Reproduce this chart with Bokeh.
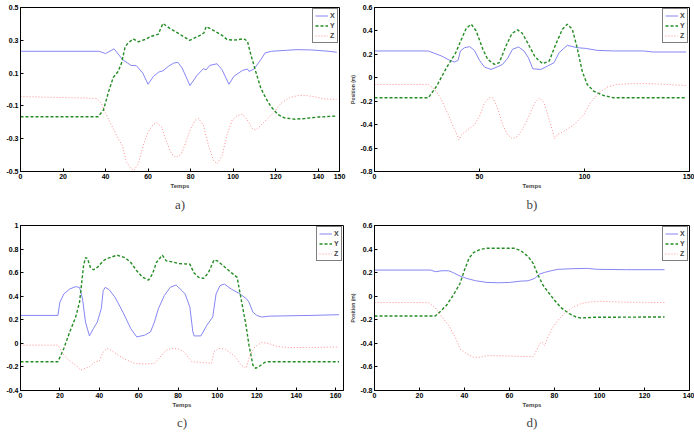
from bokeh.plotting import figure
from bokeh.layouts import column, row
from bokeh.models import Range1d, FixedTicker
from bokeh.embed import file_html
from bokeh.resources import INLINE

# ---------------- data ----------------
# panel a
a_t_x = [0, 37, 40, 44, 48, 52, 54.5, 57.5, 60, 62.5, 65, 67, 69.5, 72, 74, 76, 79.7, 83, 86, 87.3,
         89, 92.4, 94.8, 98, 100.3, 104.3, 106.7, 107.5, 109.8, 113, 115, 118, 125, 130, 137, 145, 148.7]
a_x = [0.233, 0.233, 0.219, 0.248, 0.182, 0.147, 0.145, 0.10, 0.032, 0.08, 0.106, 0.114, 0.141, 0.161, 0.166,
       0.131, 0.024, 0.086, 0.127, 0.12, 0.147, 0.157, 0.12, 0.032, 0.08, 0.116, 0.125, 0.11, 0.125, 0.182,
       0.223, 0.233, 0.239, 0.243, 0.241, 0.233, 0.227]
a_t_y = [0, 36.5, 39, 41.2, 43.6, 45.9, 47.5, 49.1, 50.2, 53, 55.4, 58.5, 61.6, 64.7, 67, 70.2, 74.5, 79.5,
         84.4, 86.3, 87.3, 90, 94.8, 97.1, 100.3, 105, 106.7, 108.3, 110.6, 113, 115.4, 117.8, 121, 124.1,
         128.9, 133.7, 140, 148.7]
a_y = [-0.166, -0.166, -0.125, -0.023, 0.073, 0.11, 0.161, 0.254, 0.278, 0.309, 0.291, 0.305, 0.325, 0.336,
       0.403, 0.373, 0.34, 0.30, 0.33, 0.346, 0.383, 0.366, 0.33, 0.305, 0.301, 0.309, 0.295, 0.213, 0.11,
       0.008, -0.054, -0.105, -0.152, -0.173, -0.181, -0.177, -0.168, -0.162]
a_t_z = [0, 35.7, 38, 40.4, 43.6, 45.9, 47.9, 49.8, 52.2, 53.3, 55.4, 57.7, 60, 62.4, 64, 66.3, 68.7, 71,
         73.2, 75.7, 77.5, 79.7, 82.1, 83.7, 86, 88.4, 90.8, 92.4, 94.8, 97.1, 99.5, 101.9, 104.3, 106.7, 109,
         110.6, 113, 116.2, 119.4, 122.5, 126.5, 130.5, 134.4, 138.4, 143.2, 148.7]
a_z = [-0.043, -0.054, -0.084, -0.156, -0.238, -0.30, -0.341, -0.443, -0.484, -0.494, -0.453, -0.341, -0.259,
       -0.214, -0.201, -0.228, -0.32, -0.392, -0.414, -0.392, -0.33, -0.248, -0.187, -0.177, -0.218, -0.341,
       -0.433, -0.453, -0.402, -0.279, -0.187, -0.16, -0.15, -0.187, -0.238, -0.248, -0.218, -0.177, -0.136,
       -0.084, -0.05, -0.037, -0.037, -0.045, -0.058, -0.06]

# panel b
b_t_x = [0, 25.6, 31.9, 35.8, 38.2, 39.8, 40.9, 42.9, 45.3, 47.6, 50, 52.4, 55.5, 58.6, 61, 63.4, 65.7, 68.6,
         71.2, 73.3, 75.4, 79.2, 82.4, 85.5, 87.9, 91.8, 96.5, 100.5, 106, 113.8, 128, 132.7, 148.4]
b_x = [0.229, 0.229, 0.186, 0.149, 0.134, 0.149, 0.229, 0.257, 0.266, 0.234, 0.149, 0.091, 0.071, 0.094,
       0.114, 0.166, 0.243, 0.263, 0.229, 0.171, 0.077, 0.071, 0.10, 0.129, 0.214, 0.277, 0.257, 0.251, 0.234,
       0.229, 0.229, 0.22, 0.22]
b_t_y = [0, 25.6, 29.6, 34.3, 38.7, 41.4, 43.7, 46.1, 48.4, 51.6, 53.9, 57.1, 59.4, 62.6, 65.4, 68.1, 70.4,
         73.3, 76.4, 80, 83.2, 86.3, 89.5, 91.8, 94.2, 96.5, 98.9, 101.3, 104.4, 109.1, 113.8, 148.4]
b_y = [-0.171, -0.171, -0.071, 0.086, 0.214, 0.329, 0.423, 0.457, 0.40, 0.243, 0.157, 0.114, 0.129, 0.271,
       0.377, 0.409, 0.38, 0.285, 0.18, 0.12, 0.143, 0.286, 0.414, 0.457, 0.414, 0.257, 0.057, -0.057, -0.114,
       -0.151, -0.171, -0.171]
b_t_z = [0, 25.6, 28.8, 31.9, 35.1, 38.2, 40.3, 41.4, 44.5, 47.6, 50, 52.4, 54.7, 56.3, 58.6, 61, 63.4, 65.7,
         68.1, 70.4, 73.3, 76.4, 78.5, 80.8, 83.2, 85.8, 87.1, 90.3, 95, 99.7, 102.8, 106.8, 110.7, 115.4,
         123.3, 132.7, 148.4]
b_z = [-0.057, -0.057, -0.10, -0.186, -0.314, -0.443, -0.529, -0.486, -0.443, -0.40, -0.329, -0.214, -0.171,
       -0.171, -0.257, -0.40, -0.486, -0.52, -0.50, -0.443, -0.336, -0.214, -0.171, -0.214, -0.357, -0.52,
       -0.486, -0.457, -0.40, -0.314, -0.214, -0.129, -0.08, -0.057, -0.049, -0.051, -0.066]

# panel c
c_t_x = [0, 19, 20, 22, 25, 28, 30, 31.5, 33, 35, 37, 39, 41, 42, 43, 45, 48, 52, 56, 59, 63, 66, 68, 70, 73,
         76, 79, 82, 83.6, 86, 87.5, 88.2, 91.6, 94.6, 97.6, 99.3, 101.3, 103.5, 107, 111.5, 114.8, 116, 118,
         120, 122.4, 126.6, 147, 161.7]
c_x = [0.237, 0.237, 0.349, 0.419, 0.461, 0.481, 0.475, 0.377, 0.181, 0.063, 0.125, 0.181, 0.293, 0.447,
       0.475, 0.456, 0.391, 0.265, 0.125, 0.055, 0.069, 0.097, 0.181, 0.293, 0.405, 0.475, 0.495, 0.447, 0.419,
       0.307, 0.097, 0.063, 0.063, 0.153, 0.223, 0.419, 0.49, 0.503, 0.461, 0.419, 0.377, 0.349, 0.265, 0.237,
       0.223, 0.231, 0.237, 0.243]
c_t_y = [0, 19, 22, 25, 28, 30, 32, 33, 34, 35.5, 37, 39, 42, 44, 49, 53, 56, 59, 62, 65, 67, 69, 72, 74, 77,
         80.3, 86, 88, 90.4, 93, 95.4, 98.3, 100, 103, 107, 110, 112, 114.5, 116, 118, 119.4, 121, 124, 126,
         161.7]
c_y = [-0.156, -0.156, -0.043, 0.097, 0.223, 0.35, 0.658, 0.728, 0.72, 0.644, 0.624, 0.644, 0.70, 0.72,
       0.748, 0.728, 0.686, 0.616, 0.56, 0.537, 0.588, 0.686, 0.748, 0.70, 0.691, 0.677, 0.672, 0.60, 0.56,
       0.551, 0.60, 0.708, 0.70, 0.658, 0.60, 0.56, 0.377, 0.153, -0.015, -0.184, -0.212, -0.198, -0.161,
       -0.156, -0.156]
c_t_z = [0, 19, 22, 25, 28, 30.5, 33, 35, 38, 40, 42, 44, 46, 50, 54, 58, 63, 68, 71, 74, 77, 80.3, 82.8, 87,
         91, 97, 98.3, 100.5, 104, 109, 112, 114.5, 116.5, 119, 122.4, 126, 130, 135, 147, 161.7]
c_z = [-0.015, -0.015, -0.10, -0.15, -0.184, -0.226, -0.212, -0.198, -0.156, -0.15, -0.072, -0.043, -0.058,
       -0.105, -0.142, -0.17, -0.175, -0.17, -0.114, -0.058, -0.043, -0.049, -0.07, -0.156, -0.161, -0.17,
       -0.07, -0.043, -0.049, -0.114, -0.184, -0.212, -0.10, -0.03, 0.007, -0.001, -0.024, -0.035, -0.035,
       -0.03]

# panel d
d_t_x = [0, 25, 27, 30, 33, 35, 38, 41, 45, 50, 55, 60, 65, 68.3, 71.2, 73.4, 75.6, 78.5, 81.5, 87.3, 94.6,
         99, 112, 128.9]
d_x = [0.222, 0.222, 0.208, 0.216, 0.216, 0.20, 0.171, 0.151, 0.131, 0.117, 0.114, 0.117, 0.128, 0.131,
       0.151, 0.188, 0.202, 0.216, 0.228, 0.233, 0.236, 0.228, 0.225, 0.225]
d_t_y = [0, 27, 29, 32, 35, 38, 40, 42, 44, 47, 50, 62, 65, 68.3, 70.5, 72.7, 74.9, 77.1, 80, 82.9, 86.6,
         89.5, 91.7, 97.5, 128.9]
d_y = [-0.168, -0.168, -0.134, -0.077, 0.009, 0.108, 0.222, 0.322, 0.37, 0.398, 0.407, 0.407, 0.387, 0.336,
       0.279, 0.179, 0.094, 0.037, -0.034, -0.097, -0.148, -0.176, -0.185, -0.179, -0.176]
d_t_z = [0, 24, 27, 30, 33, 36, 38, 41, 44, 47, 50, 60, 65, 70.5, 72, 73.4, 74.5, 75.6, 77.1, 79.3, 81.5,
         84.4, 88, 91.7, 96, 100.4, 112, 128.9]
d_z = [-0.054, -0.054, -0.097, -0.176, -0.248, -0.353, -0.447, -0.489, -0.518, -0.518, -0.504, -0.507,
       -0.512, -0.512, -0.461, -0.404, -0.39, -0.418, -0.347, -0.262, -0.205, -0.148, -0.097, -0.063, -0.048,
       -0.043, -0.051, -0.054]

# ticks and labels
a_xticks = [0, 20, 40, 60, 80, 100, 120, 140, 150]
a_yticks = [-0.5, -0.3, -0.1, 0.1, 0.3, 0.5]
a_ylabels = ["-0.5", "-0.3", "-0.1", "0.1", "0.3", "0.5"]
b_xticks = [0, 50, 100, 150]
b_yticks = [-0.8, -0.6, -0.4, -0.2, 0, 0.2, 0.4, 0.6]
b_ylabels = ["-0.8", "-0.6", "-0.4", "-0.2", "0", "0.2", "0.4", "0.6"]
c_xticks = [0, 20, 40, 60, 80, 100, 120, 140, 160]
c_yticks = [-0.4, -0.2, 0, 0.2, 0.4, 0.6, 0.8, 1]
c_ylabels = ["-0.4", "-0.2", "0", "0.2", "0.4", "0.6", "0.8", "1"]
d_xticks = [0, 20, 40, 60, 80, 100, 120, 140]
d_yticks = b_yticks
d_ylabels = b_ylabels

series_names = ["X", "Y", "Z"]
panel_names = ["a)", "b)", "c)", "d)"]

X_COLOR = "#8686f4"
Y_COLOR = "#248c24"
Z_COLOR = "#ff8c8c"

FONT = "Liberation Sans"


def style_axis(ax, ticks, overrides):
    ax.ticker = FixedTicker(ticks=ticks)
    ax.major_tick_in = 3
    ax.major_tick_out = 0
    ax.minor_tick_in = 0
    ax.minor_tick_out = 0
    ax.axis_line_color = "black"
    ax.major_tick_line_color = "black"
    ax.major_label_standoff = 2
    ax.major_label_text_font = FONT
    ax.major_label_text_font_style = "bold"
    ax.major_label_text_color = "black"
    ax.major_label_text_font_size = "7px"
    if overrides:
        ax.major_label_overrides = overrides


def panel(name, data, xr, yr, xticks, yticks, ylabels, width, height, bl, br, bt, bb,
          ylabel, title_standoff):
    p = figure(width=width, height=height, output_backend="svg", toolbar_location=None,
               x_range=Range1d(*xr), y_range=Range1d(*yr),
               min_border_left=bl, min_border_right=br, min_border_top=bt, min_border_bottom=bb,
               title=name, title_location="below")
    p.title.align = "center"
    p.title.text_font = "Liberation Serif"
    p.title.text_font_size = "13px"
    p.title.text_font_style = "normal"
    p.title.standoff = title_standoff
    p.outline_line_color = "black"
    p.xgrid.visible = False
    p.ygrid.visible = False
    p.background_fill_color = "white"
    p.border_fill_color = "white"

    yover = dict(zip(yticks, ylabels))
    style_axis(p.xaxis[0], xticks, None)
    style_axis(p.yaxis[0], yticks, yover)
    p.xaxis.axis_label = "Temps"
    p.xaxis.axis_label_text_font = FONT
    p.xaxis.axis_label_text_font_size = "6px"
    p.xaxis.axis_label_text_font_style = "bold"
    p.xaxis.axis_label_standoff = 1
    if ylabel:
        p.yaxis.axis_label = ylabel
        p.yaxis.axis_label_text_font = FONT
        p.yaxis.axis_label_text_font_size = "5px"
        p.yaxis.axis_label_text_font_style = "bold"
        p.yaxis.axis_label_standoff = 1

    (tx, x), (ty, y), (tz, z) = data
    p.line(tx, x, line_color=X_COLOR, line_width=1, legend_label=series_names[0])
    p.line(ty, y, line_color=Y_COLOR, line_width=1.4, line_dash="3 2", legend_label=series_names[1])
    p.line(tz, z, line_color=Z_COLOR, line_width=1, line_dash="1 2", legend_label=series_names[2])

    lg = p.legend[0]
    lg.location = "top_right"
    lg.margin = 1
    lg.padding = 2
    lg.spacing = 1
    lg.label_width = 5
    lg.label_height = 9
    lg.glyph_height = 9
    lg.glyph_width = 13
    lg.label_standoff = 2
    lg.label_text_font = FONT
    lg.label_text_font_size = "7px"
    lg.label_text_font_style = "bold"
    lg.border_line_color = "black"
    lg.border_line_width = 1
    lg.background_fill_alpha = 1
    return p


pa = panel(panel_names[0], [(a_t_x, a_x), (a_t_y, a_y), (a_t_z, a_z)], (0, 150), (-0.5, 0.5),
           a_xticks, a_yticks, a_ylabels, 347, 216, 20, 8, 7, 45, None, 7)
pb = panel(panel_names[1], [(b_t_x, b_x), (b_t_y, b_y), (b_t_z, b_z)], (0, 150), (-0.8, 0.6),
           b_xticks, b_yticks, b_ylabels, 347, 216, 23, 5, 7, 45, "Position (m)", 7)
pc = panel(panel_names[2], [(c_t_x, c_x), (c_t_y, c_y), (c_t_z, c_z)], (0, 164), (-0.4, 1.0),
           c_xticks, c_yticks, c_ylabels, 347, 216, 20, 4, 7, 42, None, 4)
pd = panel(panel_names[3], [(d_t_x, d_x), (d_t_y, d_y), (d_t_z, d_z)], (0, 140), (-0.8, 0.6),
           d_xticks, d_yticks, d_ylabels, 347, 216, 22, 5, 9, 42, "Position (m)", 4)

layout = column(row(pa, pb), row(pc, pd))
open("out.html", "w").write(file_html(layout, INLINE))
